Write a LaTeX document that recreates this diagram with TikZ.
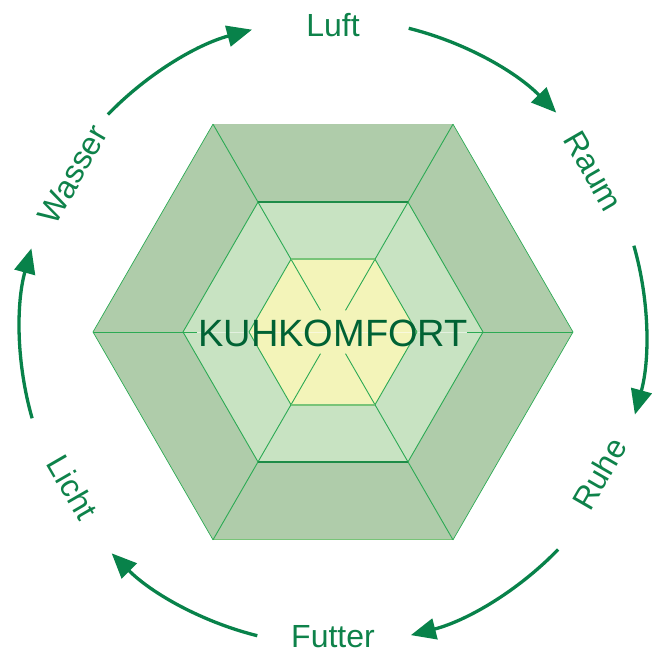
\documentclass[tikz,border=0pt]{standalone}
\usepackage{fontspec}
\setmainfont{Liberation Sans}
\usetikzlibrary{arrows.meta}
\definecolor{bandA}{RGB}{175,204,170}
\definecolor{bandB}{RGB}{200,227,194}
\definecolor{bandC}{RGB}{243,244,185}
\definecolor{spoke}{RGB}{44,170,84}
\definecolor{midedge}{RGB}{30,140,72}
\definecolor{inedge}{RGB}{120,196,120}
\definecolor{lbl}{RGB}{14,130,74}
\definecolor{ttl}{RGB}{0,98,52}
\definecolor{arr}{RGB}{8,130,74}
\tikzset{
  lab/.style={text=lbl, font=\fontsize{32}{38}\selectfont, inner sep=0pt, anchor=center},
  cyc/.style={draw=arr, line width=3.3pt, -{Triangle[length=25pt,width=21pt]}},
  spk/.style={draw=spoke, line width=0.9pt},
}
\begin{document}
\begin{tikzpicture}[x=1pt,y=1pt]
\useasboundingbox (-333,-323) rectangle (319,332);
% bands
\fill[bandA] (0:240) -- (60:240) -- (120:240) -- (180:240) -- (240:240) -- (300:240) -- cycle;
\fill[bandB] (0:150) -- (60:150) -- (120:150) -- (180:150) -- (240:150) -- (300:150) -- cycle;
\fill[bandC] (0:84) -- (60:84) -- (120:84) -- (180:84) -- (240:84) -- (300:84) -- cycle;
% outer outline
\draw[spk, line width=0.7pt] (0:240) -- (60:240) (120:240) -- (180:240) -- (240:240) (300:240) -- (0:240);
\draw[draw=inedge, line width=0.9pt] (240:240) -- (300:240);
% spokes
\foreach \a in {60,120,240,300} {
  \draw[spk] (\a:240) -- (\a:150);
  \draw[spk] (\a:150) -- (\a:84);
  \draw[spk] (\a:84) -- (\a:25);
}
\draw[spk] (180:240) -- (180:136);
\draw[spk] (0:240) -- (0:134);
\draw[white, opacity=0.5, line width=0.8pt] (180:136) -- (0:134);
% middle hexagon edges
\draw[midedge, line width=1.4pt] (60:150) -- (120:150) (240:150) -- (300:150);
\draw[spk] (0:150) -- (60:150) (120:150) -- (180:150) -- (240:150) (300:150) -- (0:150);
% inner hexagon edges
\draw[inedge, line width=1.6pt] (60:84) -- (120:84) (240:84) -- (300:84);
\draw[spk] (0:84) -- (60:84) (120:84) -- (180:84) -- (240:84) (300:84) -- (0:84);
% title
\node[text=ttl, font=\fontsize{38}{44}\selectfont, inner sep=0pt] (kk) at (0,-1) {KUHKOMFORT};
% labels
\node[lab] (luft) at (90:307) {Luft};
\node[lab, rotate=-60] (raum) at (31.7:306) {Raum};
\node[lab, rotate=60] (ruhe) at (-28:302) {Ruhe};
\node[lab] (futter) at (-90:305) {Futter};
\node[lab, rotate=-60] (licht) at (-149.2:303) {Licht};
\node[lab, rotate=60] (wasser) at (148.8:304) {Wasser};
% cycle arrows
\coordinate (s1) at (136:313);
\coordinate (s2) at (76:313);
\coordinate (s3) at (16:313);
\coordinate (s4) at (-44:313);
\coordinate (s5) at (-104:313);
\coordinate (s6) at (196:313);
\draw[cyc] (s1) arc[start angle=136, end angle=105, radius=313];
\draw[cyc] (s2) arc[start angle=76, end angle=44.5, radius=313];
\draw[cyc] (s3) arc[start angle=16, end angle=-15.3, radius=313];
\draw[cyc] (s4) arc[start angle=-44, end angle=-75.6, radius=313];
\draw[cyc] (s5) arc[start angle=-104, end angle=-135, radius=313];
\draw[cyc] (s6) arc[start angle=196, end angle=164.5, radius=313];
\end{tikzpicture}
\end{document}
